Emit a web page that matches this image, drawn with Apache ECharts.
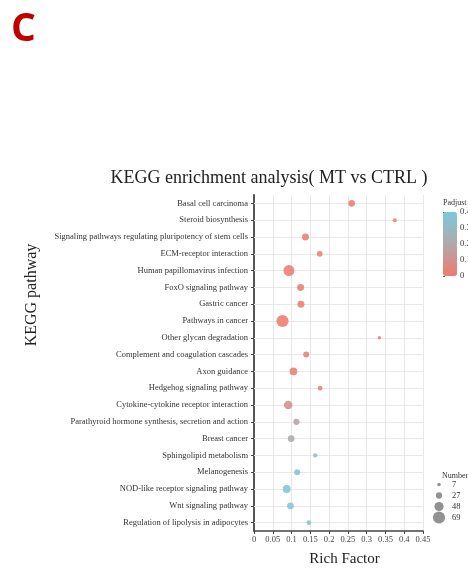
<!DOCTYPE html>
<html>
<head>
<meta charset="utf-8">
<script src="https://cdn.jsdelivr.net/npm/echarts@6/dist/echarts.min.js"></script>
<style>
html, body { margin: 0; padding: 0; background: #fff; }
#main { width: 468px; height: 569px; }
</style>
</head>
<body>
<div id="main"></div>
<script>
// pathways, top to bottom
var pathways = [
	'Basal cell carcinoma',
	'Steroid biosynthesis',
	'Signaling pathways regulating pluripotency of stem cells',
	'ECM-receptor interaction',
	'Human papillomavirus infection',
	'FoxO signaling pathway',
	'Gastric cancer',
	'Pathways in cancer',
	'Other glycan degradation',
	'Complement and coagulation cascades',
	'Axon guidance',
	'Hedgehog signaling pathway',
	'Cytokine-cytokine receptor interaction',
	'Parathyroid hormone synthesis, secretion and action',
	'Breast cancer',
	'Sphingolipid metabolism',
	'Melanogenesis',
	'NOD-like receptor signaling pathway',
	'Wnt signaling pathway',
	'Regulation of lipolysis in adipocytes'
];
var richFactor = [0.260, 0.375, 0.137, 0.175, 0.093, 0.124, 0.125, 0.076, 0.334, 0.139,
	0.105, 0.176, 0.091, 0.113, 0.099, 0.163, 0.115, 0.087, 0.097, 0.146];
var geneNumber = [29, 11, 32, 23, 61, 32, 32, 69, 7, 25,
	37, 16, 44, 27, 30, 13, 25, 39, 30, 16];
var padjust = [0.01, 0.02, 0.01, 0.02, 0.01, 0.01, 0.01, 0.0, 0.03, 0.02,
	0.02, 0.03, 0.10, 0.18, 0.22, 0.30, 0.36, 0.37, 0.37, 0.36];

var numberLegend = ['7', '27', '48', '69'];
var padjTicks = [0, 0.4, 0.1];  // min, max, step

var serif = '"Liberation Serif", "DejaVu Serif", serif';

function dotSize(n) {
	return 2.5 + 0.14 * n;
}

var chart = echarts.init(document.getElementById('main'));

var points = pathways.map(function(p, i) {
	return [richFactor[i], p, padjust[i], geneNumber[i]];
});

var option = {
	backgroundColor: '#fff',
	animation: false,
	title: [{
		text: 'KEGG enrichment analysis( MT vs CTRL )',
		left: 264,
		textAlign: 'center',
		top: 164,
		textStyle: { fontFamily: serif, fontWeight: 'normal', fontSize: 18, color: '#222' }
	}, {
		text: 'Padjust',
		left: 438,
		top: 194,
		textStyle: { fontFamily: serif, fontWeight: 'normal', fontSize: 8, color: '#333' }
	}, {
		text: 'Number',
		left: 437,
		top: 467,
		textStyle: { fontFamily: serif, fontWeight: 'normal', fontSize: 8, color: '#333' }
	}],
	graphic: [{
		type: 'text',
		left: 11,
		top: 10,
		style: { text: 'C', font: 'bold 39px "Open Sans", sans-serif', fill: '#c00000' }
	}, {
		type: 'text',
		x: 24,
		y: 295,
		rotation: Math.PI / 2,
		style: {
			text: 'KEGG pathway', font: '16px ' + serif, fill: '#222',
			align: 'center', verticalAlign: 'top'
		}
	}],
	grid: [
		{ left: 254, right: 45, top: 195, bottom: 38, outerBoundsMode: 'none' },
		{ left: 443, width: 14, top: 212, height: 64, outerBoundsMode: 'none' },
		{ left: 433, width: 12, top: 479, height: 44, outerBoundsMode: 'none' }
	],
	xAxis: [{
		gridIndex: 0,
		type: 'value',
		min: 0,
		max: 0.45,
		interval: 0.05,
		name: 'Rich Factor',
		nameLocation: 'middle',
		nameGap: 21,
		nameTextStyle: { fontFamily: serif, fontSize: 15, color: '#222', padding: [0, 0, 0, 12] },
		axisLine: { show: true, lineStyle: { color: '#444', width: 1.5 } },
		axisTick: { show: true, length: 3, lineStyle: { color: '#444' } },
		axisLabel: { fontFamily: serif, fontSize: 8.5, color: '#444', margin: 4 },
		splitLine: { show: true, lineStyle: { color: '#e8e8e8', width: 1 } }
	}, {
		gridIndex: 1, type: 'value', show: false, min: 0, max: 1
	}, {
		gridIndex: 2, type: 'value', show: false, min: -1, max: 1
	}],
	yAxis: [{
		gridIndex: 0,
		type: 'category',
		data: pathways,
		inverse: true,
		axisLine: { show: true, lineStyle: { color: '#555', width: 2 } },
		axisTick: { show: true, alignWithLabel: true, length: 3, lineStyle: { color: '#444' } },
		axisLabel: { fontFamily: serif, fontSize: 8.5, color: '#333', margin: 6 },
		splitLine: { show: false }
	}, {
		gridIndex: 1,
		type: 'value',
		position: 'right',
		min: padjTicks[0],
		max: padjTicks[1],
		interval: padjTicks[2],
		axisLine: { show: false },
		axisTick: { show: true, inside: false, length: 2, lineStyle: { color: '#555' } },
		axisLabel: { fontFamily: serif, fontSize: 8.5, color: '#333', margin: 3 },
		splitLine: { show: false }
	}, {
		gridIndex: 2,
		type: 'category',
		data: numberLegend,
		inverse: true,
		position: 'right',
		axisLine: { show: false },
		axisTick: { show: false },
		axisLabel: { interval: 0, fontFamily: serif, fontSize: 8.5, color: '#333', margin: 7 },
		splitLine: { show: false }
	}],
	visualMap: [{
		type: 'continuous',
		seriesIndex: 0,
		dimension: 2,
		min: padjTicks[0],
		max: padjTicks[1],
		calculable: false,
		hoverLink: false,
		left: 443,
		top: 212,
		padding: 0,
		itemWidth: 14,
		itemHeight: 64,
		text: null,
		inRange: { color: ['#ef7b70', '#b0a9aa', '#7cc9dc'] }
	}],
	series: [{
		type: 'scatter',
		xAxisIndex: 0,
		yAxisIndex: 0,
		z: 3,
		data: points,
		symbolSize: function(v) { return dotSize(v[3]); },
		itemStyle: { opacity: 0.88 }
	}, {
		// horizontal grid lines through each pathway
		type: 'scatter',
		xAxisIndex: 0,
		yAxisIndex: 0,
		z: 1,
		data: [],
		markLine: {
			silent: true,
			z: 1,
			symbol: 'none',
			animation: false,
			label: { show: false },
			lineStyle: { color: '#e8e8e8', width: 1, type: 'solid' },
			data: pathways.map(function(p) { return { yAxis: p }; })
		}
	}, {
		// size legend
		type: 'scatter',
		xAxisIndex: 2,
		yAxisIndex: 2,
		silent: true,
		data: numberLegend.map(function(n) { return [0, n]; }),
		symbolSize: function(v) { return dotSize(+v[1]); },
		itemStyle: { color: '#777' }
	}]
};

chart.setOption(option);
</script>
</body>
</html>
